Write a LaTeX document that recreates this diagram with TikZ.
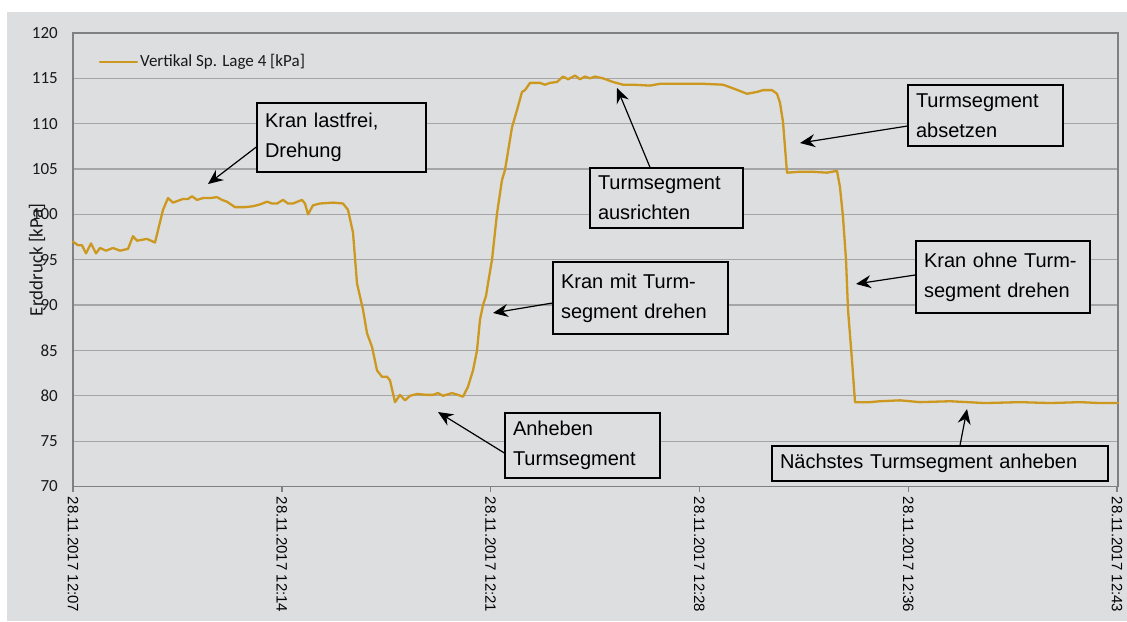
\documentclass[tikz,border=0pt]{standalone}
\usepackage{fontspec}
\setmainfont{Liberation Sans}
\newfontfamily\calfont{Carlito}
\usetikzlibrary{arrows.meta}

\definecolor{chartbg}{RGB}{221,222,223}
\definecolor{gridgrey}{RGB}{165,165,165}
\definecolor{axisgrey}{RGB}{128,128,128}
\definecolor{kpagold}{RGB}{204,152,32}
\definecolor{labelgrey}{RGB}{25,25,25}

\tikzset{
  gridline/.style={draw=gridgrey, line width=1.3pt},
  axisline/.style={draw=axisgrey, line width=1.4pt},
  curve/.style={draw=kpagold, line width=2.3pt, line join=round, line cap=round},
  ylab/.style={anchor=east, inner sep=0pt, text=labelgrey, font=\calfont\fontsize{17}{17}\selectfont},
  datelab/.style={rotate=-90, anchor=west, inner sep=0pt, text=black, font=\fontsize{15}{15}\selectfont},
  callout/.style={draw=black, line width=1.3pt, fill=chartbg, inner xsep=8pt, inner ysep=0pt,
    align=left, font=\fontsize{20}{30}\selectfont},
  pointer/.style={-{Stealth[length=15pt,width=13pt,inset=5pt]}, line width=1.2pt},
}

\begin{document}
\begin{tikzpicture}[x=1pt, y=9.07pt]
\useasboundingbox (0,55.17) rectangle (1127,123.64);
\fill[chartbg] (7,122.32) rectangle (1127,55.17);

% grid and axes
\foreach \v in {75,80,...,115}
  \draw[gridline] (73,\v) -- (1118,\v);
\draw[axisline] (73,70) -- (73,120) -- (1118,120) -- (1118,70) -- cycle;
\foreach \v in {70,75,...,120}
  \node[ylab] (yl\v) at (58,\v) {\v};
\foreach \i/\t in {0/12:07,1/12:14,2/12:21,3/12:28,4/12:36,5/12:43} {
  \draw[axisline] (73+\i*208.8,70) -- ++(0pt,-5pt);
  \node[datelab] (xl\i) at (73+\i*208.8,68.9) {28.11.2017 \t};
}
\node[rotate=90, inner sep=0pt, text=labelgrey, font=\calfont\fontsize{19}{19}\selectfont] (ytitle) at (37,94.97) {Erddruck [kPa]};

% legend
\node[fill=chartbg, minimum width=244pt, minimum height=30pt, inner sep=0pt] (legbox) at (198,116.8) {};
\draw[curve] (100,116.8) -- (137,116.8);
\node[anchor=west, inner sep=0pt, text=labelgrey, font=\calfont\fontsize{17}{19}\selectfont] (legtext) at (140,116.8) {Vertikal Sp. Lage 4 [kPa]};

% measured pressure
\draw[curve] plot coordinates {
  (73,97.0) (78,96.6) (82,96.6) (86,95.7) (91,96.8) (96,95.7) (100,96.3) (106,96.0)
  (113,96.3) (120,96.0) (128,96.2) (133,97.6) (137,97.1) (147,97.3) (155,96.9)
  (163,100.5) (168,101.8) (173,101.3) (183,101.7) (188,101.7) (192,102.0) (197,101.6)
  (203,101.8) (210,101.8) (217,101.9) (222,101.6) (227,101.4) (235,100.8) (245,100.8)
  (253,100.9) (260,101.1) (267,101.4) (272,101.2) (277,101.2) (283,101.6) (288,101.2)
  (293,101.2) (302,101.6) (305,101.2) (308,100.0) (313,101.0) (320,101.2) (333,101.3)
  (343,101.2) (348,100.5) (353,98.0) (357,92.4) (363,89.5) (367,86.9) (372,85.4)
  (377,82.8) (382,82.1) (387,82.1) (390,81.7) (395,79.3) (400,80.1) (405,79.5)
  (410,80.0) (417,80.2) (427,80.1) (433,80.1) (438,80.3) (443,80.0) (452,80.3)
  (458,80.1) (463,79.9) (468,81.0) (473,82.8) (477,85.0) (480,88.4) (483,90.0)
  (486,91.0) (488,92.4) (492,95.0) (497,100.1) (502,103.8) (505,104.9) (512,109.6)
  (517,111.5) (522,113.5) (525,113.7) (530,114.5) (540,114.5) (545,114.3) (550,114.5)
  (557,114.6) (563,115.2) (568,114.9) (575,115.3) (580,114.9) (585,115.2) (590,115.0)
  (595,115.2) (603,115.0) (613,114.6) (623,114.3) (633,114.3) (650,114.2) (660,114.4)
  (680,114.4) (703,114.4) (723,114.3) (733,113.9) (747,113.3) (757,113.5) (763,113.7)
  (772,113.7) (777,113.3) (780,112.3) (783,110.2) (785,107.4) (787,104.6) (800,104.7)
  (813,104.7) (827,104.6) (837,104.8) (840,103.0) (843,99.7) (846,95.0) (848,89.5)
  (852,83.9) (855,79.3) (870,79.3) (880,79.4) (900,79.5) (920,79.3) (950,79.4)
  (985,79.2) (1020,79.3) (1050,79.2) (1080,79.3) (1100,79.2) (1118,79.2)
};

% callouts
\node[callout, minimum width=169pt, minimum height=69pt, text width=153pt] (lastfrei) at (341.5,108.48) {Kran lastfrei,\\Drehung};
\node[callout, minimum width=153pt, minimum height=60pt, text width=137pt] (ausrichten) at (666.5,101.81) {Turmsegment\\ausrichten};
\node[callout, minimum width=175pt, minimum height=72pt, text width=159pt] (mitseg) at (640.5,90.78) {Kran mit Turm-\\segment drehen};
\node[callout, minimum width=155pt, minimum height=65pt, text width=139pt] (anheben) at (582.5,74.52) {Anheben\\Turmsegment};
\node[callout, minimum width=155pt, minimum height=61pt, text width=139pt] (absetzen) at (985.5,110.9) {Turmsegment\\absetzen};
\node[callout, minimum width=174pt, minimum height=72pt, text width=158pt] (ohneseg) at (1003,93.1) {Kran ohne Turm-\\segment drehen};
\node[callout, minimum width=336pt, minimum height=35pt, text width=320pt] (naechstes) at (940,72.54) {Nächstes Turmsegment anheben};

\coordinate (lastfreitip) at (208,103.35);
\coordinate (ausrichtentip) at (617,113.94);
\coordinate (mitsegtip) at (493,89.13);
\coordinate (anhebentip) at (438,78.21);
\coordinate (absetzentip) at (800,107.87);
\coordinate (ohnesegtip) at (856,92.33);
\coordinate (naechstestip) at (967,78.54);

\draw[pointer] ([yshift=-9.5pt]lastfrei.west) -- (lastfreitip);
\draw[pointer] ([xshift=-16.5pt]ausrichten.north) -- (ausrichtentip);
\draw[pointer] ([yshift=-5pt]mitseg.west) -- (mitsegtip);
\draw[pointer] ([yshift=-7.5pt]anheben.west) -- (anhebentip);
\draw[pointer] ([yshift=-10.5pt]absetzen.west) -- (absetzentip);
\draw[pointer] ([yshift=2pt]ohneseg.west) -- (ohnesegtip);
\draw[pointer] ([xshift=20pt]naechstes.north) -- (naechstestip);
\end{tikzpicture}
\end{document}
